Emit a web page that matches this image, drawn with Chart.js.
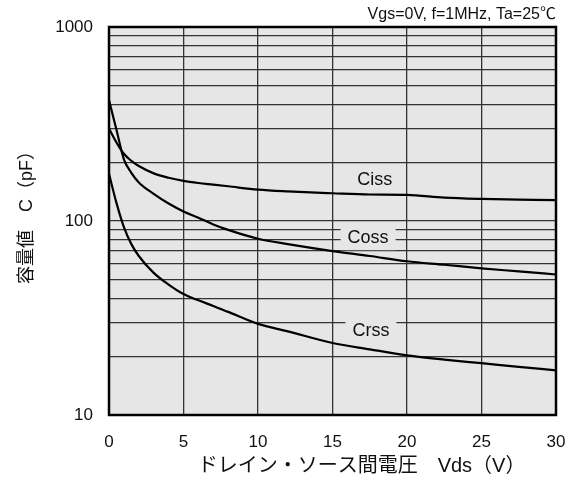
<!DOCTYPE html>
<html>
<head>
<meta charset="utf-8">
<script src="https://cdn.jsdelivr.net/npm/chart.js@4.4.1/dist/chart.umd.min.js"></script>
<style>
  html, body { margin: 0; padding: 0; background: #ffffff; }
  #wrap { width: 569px; height: 481px; position: relative; }
</style>
</head>
<body>
<div id="wrap"><canvas id="c" width="569" height="481"></canvas></div>
<script>
// ---- data ----
const vds  = [0, 0.5, 1, 1.5, 2, 3, 4, 5, 6, 7, 8, 10, 12, 15, 17.5, 20, 22.5, 25, 27.5, 30];
const ciss = [300, 254, 222, 204, 192, 176, 167, 161, 157, 154, 151, 145, 142, 139, 137, 136.5, 132, 130, 129, 128];
const coss = [420, 295, 208, 177, 158, 138, 123, 112, 104, 96, 90, 81, 76, 70, 66, 62, 59.5, 57, 55, 53];
const crss = [175, 124, 93, 76, 66, 54, 47, 42, 39, 36.5, 34, 29.5, 27, 23.5, 21.8, 20.3, 19.3, 18.5, 17.7, 17];
const seriesNames = ['Ciss', 'Coss', 'Crss'];
const xTickValues = [0, 5, 10, 15, 20, 25, 30];
const yTickValues = [10, 20, 30, 40, 50, 60, 70, 80, 90, 100, 200, 300, 400, 500, 600, 700, 800, 900, 1000];
const yTickLabels = [10, 100, 1000];
const xTitle = 'ドレイン・ソース間電圧　Vds（V）';
const yTitle = '容量値　C（pF）';
const condition = 'Vgs=0V, f=1MHz, Ta=25℃';
// label anchors in data units (Vds, pF)
const labelAnchorX = [17.84, 17.39, 17.58];
const labelAnchorY = [165, 82.5, 27.3];

const FONT = '"Liberation Sans", Arial, "Noto Sans CJK JP", sans-serif';
const BG = '#e6e6e6';

function mk(arr) { return vds.map((x, i) => ({ x: x, y: arr[i] })); }

const bgPlugin = {
  id: 'bg',
  beforeDraw(chart) {
    const { ctx, chartArea: a } = chart;
    ctx.save();
    ctx.fillStyle = BG;
    ctx.fillRect(a.left, a.top, a.right - a.left, a.bottom - a.top);
    ctx.restore();
  }
};

const overlay = {
  id: 'overlay',
  afterDatasetsDraw(chart) {
    const { ctx, chartArea: a, scales } = chart;
    ctx.save();
    ctx.font = '18px ' + FONT;
    ctx.textAlign = 'center';
    ctx.textBaseline = 'middle';
    seriesNames.forEach((name, i) => {
      const px = scales.x.getPixelForValue(labelAnchorX[i]);
      const py = scales.y.getPixelForValue(labelAnchorY[i]);
      const w = ctx.measureText(name).width + 14;
      ctx.fillStyle = BG;
      ctx.fillRect(px - w / 2, py - 13, w, 26);
      ctx.fillStyle = '#111';
      ctx.fillText(name, px, py + 1);
    });
    // frame
    ctx.strokeStyle = '#000';
    ctx.lineWidth = 2.5;
    ctx.strokeRect(a.left, a.top, a.right - a.left, a.bottom - a.top);
    ctx.restore();
  },
  afterDraw(chart) {
    const { ctx, chartArea: a } = chart;
    ctx.save();
    ctx.fillStyle = '#111';
    ctx.textBaseline = 'middle';
    // condition text
    ctx.font = '16px ' + FONT;
    ctx.textAlign = 'right';
    ctx.fillText(condition, a.right, 15);
    // x title
    ctx.font = '20px ' + FONT;
    ctx.textAlign = 'center';
    ctx.fillText(xTitle, a.left + (a.right - a.left) * 0.565, 466);
    // y title
    ctx.font = '18px ' + FONT;
    ctx.translate(27, 213);
    ctx.rotate(-Math.PI / 2);
    ctx.fillText(yTitle, 0, 0);
    ctx.restore();
  }
};

const lineStyle = {
  borderColor: '#000',
  borderWidth: 2.2,
  pointRadius: 0,
  fill: false,
  cubicInterpolationMode: 'monotone'
};

new Chart(document.getElementById('c'), {
  type: 'line',
  data: {
    datasets: [
      Object.assign({ label: seriesNames[0], data: mk(ciss) }, lineStyle),
      Object.assign({ label: seriesNames[1], data: mk(coss) }, lineStyle),
      Object.assign({ label: seriesNames[2], data: mk(crss) }, lineStyle)
    ]
  },
  options: {
    responsive: false,
    animation: false,
    devicePixelRatio: 1,
    layout: { padding: { top: 27, right: 13, bottom: 0, left: 0 } },
    plugins: { legend: { display: false }, tooltip: { enabled: false } },
    scales: {
      x: {
        type: 'linear',
        min: 0, max: 30,
        afterBuildTicks(scale) { scale.ticks = xTickValues.map(v => ({ value: v })); },
        afterFit(scale) {
          scale.height = 66;
          scale.paddingLeft = 0; scale.paddingRight = 0;
          scale.paddingTop = 0; scale.paddingBottom = 0;
        },
        ticks: {
          autoSkip: false,
          maxRotation: 0,
          padding: 17,
          color: '#111',
          font: { family: FONT, size: 17 },
          callback: (v) => String(v)
        },
        grid: { color: '#333', lineWidth: 1.3, drawTicks: false },
        border: { display: false }
      },
      y: {
        type: 'logarithmic',
        min: 10, max: 1000,
        afterBuildTicks(scale) { scale.ticks = yTickValues.map(v => ({ value: v })); },
        afterFit(scale) {
          scale.width = 109;
          scale.paddingTop = 0; scale.paddingBottom = 0;
          scale.paddingLeft = 0; scale.paddingRight = 0;
        },
        ticks: {
          autoSkip: false,
          padding: 16,
          color: '#111',
          font: { family: FONT, size: 17 },
          callback: (v) => yTickLabels.includes(v) ? String(v) : ''
        },
        grid: { color: '#333', lineWidth: 1.3, drawTicks: false },
        border: { display: false }
      }
    }
  },
  plugins: [bgPlugin, overlay]
});
</script>
</body>
</html>
